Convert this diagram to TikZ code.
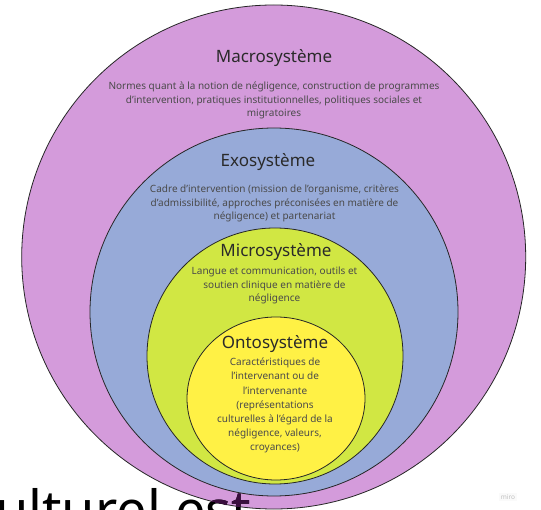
\documentclass[tikz,border=0pt]{standalone}
\usepackage{fontspec}
\setmainfont{Noto Sans}
\definecolor{macrofill}{HTML}{D49BDB}
\definecolor{exofill}{HTML}{97AAD8}
\definecolor{microfill}{HTML}{D1E743}
\definecolor{ontofill}{HTML}{FFF145}
\definecolor{titlegray}{HTML}{2A2A2A}
\definecolor{descgray}{HTML}{4A4A4A}
\definecolor{fragpurple}{HTML}{3A0E3E}
\tikzset{layer/.style={draw=black!85,line width=0.8pt},
 title/.style={font=\fontsize{17}{20}\selectfont,text=titlegray,inner sep=0pt},
 desc/.style={font=\fontsize{10}{13.8}\selectfont,text=descgray,align=center,inner sep=0pt},
 ontodesc/.style={desc,font=\fontsize{10}{14.1}\selectfont},
 watermark/.style={font=\fontsize{6.5}{8}\selectfont,text=black!25,fill=black!2,inner sep=2pt},
 fragment/.style={font=\fontsize{54}{60}\selectfont,anchor=base west,inner sep=0pt},
 }

\begin{document}
\begin{tikzpicture}[x=1pt,y=-1pt]
  \useasboundingbox (0,0) rectangle (541,510);
  \clip (0,0) rectangle (541,510);
  \fill[white] (0,0) rectangle (541,510);
  % nested layers
  \draw[layer,fill=macrofill] (273.7,257) circle (252pt);
  \draw[layer,fill=exofill] (274,312) circle (184pt);
  \draw[layer,fill=microfill] (275,356) circle (128pt);
  \draw[layer,fill=ontofill] (276,398.5) ellipse [x radius=89pt,y radius=81.5pt];

  \node[title] (macrotitle) at (274,58) {Macrosystème};
  \node[desc] (macrodesc) at (274,100.5) {Normes quant à la notion de négligence, construction de programmes\\d'intervention, pratiques institutionnelles, politiques sociales et\\migratoires};
  \node[title] (exotitle) at (268,162) {Exosystème};
  \node[desc] (exodesc) at (274.5,203.5) {Cadre d'intervention (mission de l'organisme, critères\\d'admissibilité, approches préconisées en matière de\\négligence) et partenariat};
  \node[title] (microtitle) at (276,252) {Microsystème};
  \node[desc] (microdesc) at (274.5,285.5) {Langue et communication, outils et\\soutien clinique en matière de\\négligence};
  \node[title] (ontotitle) at (275,344) {Ontosystème};
  \node[ontodesc] (ontodesc) at (275,405.5) {Caractéristiques de\\l'intervenant ou de\\l'intervenante\\(représentations\\culturelles à l'égard de la\\négligence, valeurs,\\croyances)};

  \node[watermark] (miro) at (508,497) {miro};
  \node[fragment] (frag) at (-5,529) {ulturel est};
  \begin{scope}
    \clip (273.7,257) circle (252pt);
    \node[fragment,text=fragpurple] (fragin) at (-5,529) {ulturel est};
  \end{scope}
\end{tikzpicture}
\end{document}
